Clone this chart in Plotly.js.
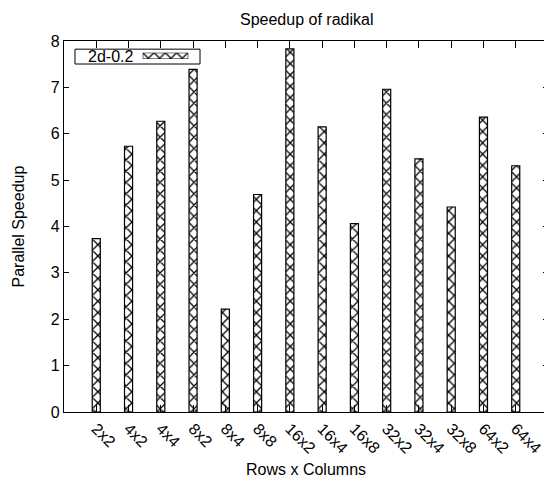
<!DOCTYPE html>
<html>
<head>
<meta charset="utf-8">
<script src="https://cdn.plot.ly/plotly-3.0.1.min.js"></script>
<style>html,body{margin:0;padding:0;overflow:hidden;background:#fff}</style>
</head>
<body>
<div id="chart"></div>
<script>
const categories = ["2x2","4x2","4x4","8x2","8x4","8x8","16x2","16x4","16x8","32x2","32x4","32x8","64x2","64x4"];
const speedup = [3.74,5.73,6.27,7.39,2.22,4.69,7.83,6.15,4.06,6.96,5.46,4.42,6.36,5.31];
const seriesName = "2d-0.2";
const yTicks = [0,1,2,3,4,5,6,7,8];

const FONT = "Liberation Sans, Arial, sans-serif";
const FS = 16;
const pattern = {shape: "x", size: 8, solidity: 0.3, fgcolor: "#000", fgopacity: 1, bgcolor: "#fff", fillmode: "overlay"};

const traces = [
  {
    type: "bar",
    x: categories,
    y: speedup,
    name: seriesName,
    width: 0.25,
    marker: {color: "#fff", line: {color: "#000", width: 1.2}, pattern: pattern},
    showlegend: false,
    hoverinfo: "x+y"
  },
  {
    type: "bar",
    orientation: "h",
    x: [1],
    y: [seriesName],
    xaxis: "x2",
    yaxis: "y2",
    width: 1,
    marker: {color: "#fff", line: {color: "#000", width: 1.2}, pattern: pattern},
    showlegend: false,
    hoverinfo: "skip"
  }
];

const layout = {
  width: 552,
  height: 481,
  margin: {l: 64, r: 4, t: 41, b: 69},
  paper_bgcolor: "#fff",
  plot_bgcolor: "#fff",
  font: {family: FONT, size: FS, color: "#000"},
  showlegend: false,
  bargap: 0,
  xaxis: {
    type: "category",
    range: [-1, 14],
    showline: true, linecolor: "#000", linewidth: 1.2, mirror: "allticks",
    ticks: "inside", ticklen: 7, tickcolor: "#000", tickwidth: 1,
    tickangle: 45,
    tickfont: {family: FONT, size: FS},
    showgrid: false, zeroline: false
  },
  yaxis: {
    range: [0, 8],
    tickvals: yTicks,
    showline: true, linecolor: "#000", linewidth: 1.2, mirror: "allticks",
    ticks: "inside", ticklen: 5, tickcolor: "#000", tickwidth: 1,
    tickfont: {family: FONT, size: FS},
    showgrid: false, zeroline: false
  },
  xaxis2: {domain: [0.1626, 0.2568], range: [0, 1], anchor: "y2", visible: false, fixedrange: true},
  yaxis2: {domain: [0.9512, 0.9685], range: [-0.5, 0.5], anchor: "x2", visible: false, type: "category", fixedrange: true},
  shapes: [
    {type: "rect", xref: "paper", yref: "paper", x0: 0.0227, x1: 0.281, y0: 0.938, y1: 0.978,
     line: {color: "#000", width: 1}, fillcolor: "rgba(0,0,0,0)", layer: "below"}
  ],
  annotations: [
    {text: "Speedup of radikal", xref: "paper", yref: "paper", x: 0.5, y: 1, yshift: 22,
     xanchor: "center", yanchor: "middle", showarrow: false, font: {family: FONT, size: FS}},
    {text: "Rows x Columns", xref: "paper", yref: "paper", x: 0.5, y: 0, yshift: -57,
     xanchor: "center", yanchor: "middle", showarrow: false, font: {family: FONT, size: FS}},
    {text: "Parallel Speedup", xref: "paper", yref: "paper", x: 0, y: 0.5, xshift: -46,
     xanchor: "center", yanchor: "middle", textangle: -90, showarrow: false, font: {family: FONT, size: FS}},
    {text: seriesName, xref: "paper", yref: "paper", x: 0.0455, y: 0.958,
     xanchor: "left", yanchor: "middle", showarrow: false, font: {family: FONT, size: FS}}
  ]
};

Plotly.newPlot("chart", traces, layout, {displayModeBar: false, staticPlot: true});
</script>
</body>
</html>
